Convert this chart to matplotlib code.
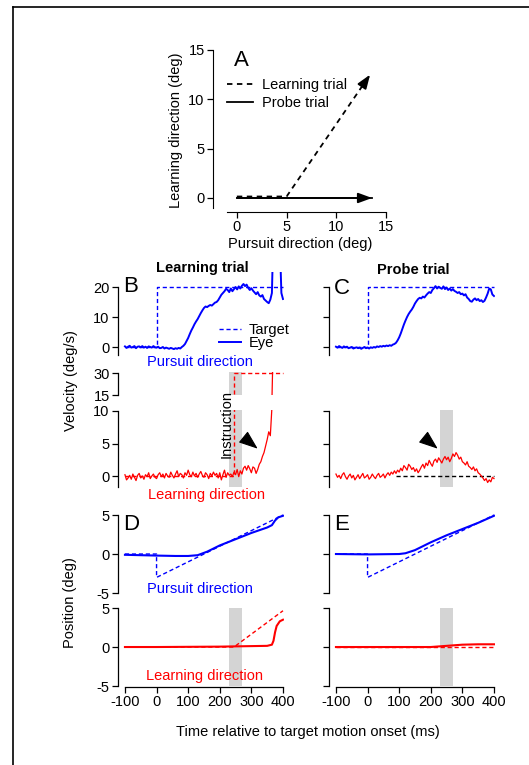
import numpy as np
import matplotlib.pyplot as plt
from matplotlib.lines import Line2D

plt.rcParams['font.family'] = ['Liberation Sans', 'DejaVu Sans']
plt.rcParams['font.size'] = 10.5
plt.rcParams['axes.unicode_minus'] = False

W, H = 529, 765
BLUE = '#0000ff'
RED = '#ff0000'
GRAY = '#d4d4d4'
FS = 10.5

# ---- panel A: target directions (deg) ----
probe_x = [0, 13.6]
probe_y = [0, 0]
learn_x = [0, 5, 13.4]
learn_y = [0.15, 0.15, 12.5]

# ---- eye velocity traces, sampled every 5 ms ----
t_vel = np.arange(-100, 401, 5)

eye_vel_pursuit_learn = [
    0.2, -0.3, 0.1, 0.4, -0.2, 0.0, 0.3, -0.4, 0.1, 0.2, -0.1, 0.3, -0.2, 0.1, -0.3, 0.2, 0.0, -0.2, 0.3, -0.1,
    -0.2, 0.1, -0.4, -0.3, 0.0, -0.5, -0.2, -0.4, -0.6, -0.3, -0.5, -0.7, -0.4,
    -0.6, -0.3, -0.5, 0.0, 0.4,
    1.0, 2.0, 3.0, 4.3, 5.5, 6.5, 7.6, 8.5, 9.3,
    10.3, 11.3, 12.2, 13.0, 13.5, 13.3, 13.7, 14.0, 13.8, 14.3,
    14.8, 15.0, 15.6, 16.5, 17.4, 18.0, 18.6, 19.4, 19.0, 18.3, 19.5, 18.6,
    19.3, 20.0, 19.2, 20.2, 19.5, 20.4, 21.0, 20.3, 20.8, 19.7, 19.0, 19.6,
    18.8, 18.2, 17.6, 18.3, 17.2, 16.8, 17.3, 16.0, 15.5, 15.0, 14.6, 15.8,
    18.0, 40.0, 45.0, 45.0, 40.0, 35.0, 18.0, 16.0]

eye_vel_pursuit_probe = [
    0.1, -0.2, 0.3, 0.0, -0.3, 0.2, -0.1, 0.1, -0.4, -0.2, 0.0, -0.5, -0.3, -0.1, -0.4, -0.2, -0.6, -0.3, 0.0, -0.4,
    -0.2, -0.5, -0.1, -0.3, 0.0, -0.2, 0.2, 0.0, 0.3, 0.1, 0.4, 0.2, 0.5,
    0.3, 0.6, 0.4, 0.8, 1.0,
    1.4, 2.2, 3.2, 4.5, 6.0, 7.5, 8.8, 10.0, 11.0,
    11.8, 12.5, 13.4, 14.5, 15.3, 16.0, 16.4, 16.2, 16.8, 16.5,
    17.2, 17.8, 18.3, 18.0, 19.0, 19.6, 20.3, 19.5, 20.1, 19.7, 19.4, 20.2,
    19.3, 19.8, 19.0, 19.5, 18.8, 19.3, 18.7, 18.4, 18.0, 18.3, 17.6, 17.8,
    17.2, 17.6, 16.5, 16.0, 15.3, 15.1, 15.8, 16.2, 15.6, 16.0, 15.3, 15.6,
    15.0, 15.4, 16.5, 17.8, 19.5, 19.2, 17.5, 17.0]

eye_vel_learn_learn = [
    0.2, -0.6, -0.3, 0.1, -0.5, 0.3, -0.2, -0.7, 0.1, 0.4, -0.3, 0.0, -0.5, 0.2, -0.1, 0.5, -0.4, 0.0, 0.3, -0.2,
    -0.4, 0.2, 0.5, -0.1, 0.3, -0.3, 0.4, 0.0, -0.2, 0.6, 0.1, -0.3, 0.3,
    0.8, -0.1, 0.4, 0.2, -0.3,
    0.5, 0.1, 0.9, 0.2, -0.1, 0.6, 0.0, 0.4, -0.2,
    0.3, 0.7, 0.1, -0.2, 0.5, 0.2, -0.4, 0.4, 0.0, 0.6,
    0.1, 0.4, -0.3, 0.5, -0.6, 0.2, 0.9, -0.2, 0.5, 0.1, 0.3, -0.1,
    0.6, 0.2, 1.0, -0.1, 0.8, 0.3, 1.2, 1.5, 0.9, 1.6, 1.1, 0.5,
    1.4, 1.2, 0.4, 1.0, 1.8, 2.2, 3.0, 3.6, 4.6, 5.6, 6.8, 6.2,
    10.5, 60, 60, 60, 60, 60, 60, 60]

eye_vel_learn_probe = [
    0.3, -0.2, 0.1, -0.4, 0.2, 0.5, -0.1, -0.5, 0.0, 0.3, -0.3, 0.1, -0.6, -0.2, 0.2, -0.4, 0.0, 0.4, -0.3, -0.1,
    0.2, -0.5, -0.2, 0.3, -0.1, -0.4, 0.1, 0.4, -0.2, 0.0, 0.3, -0.3, 0.2,
    0.5, 0.1, 0.6, 0.3, 0.8,
    0.4, 0.9, 0.6, 1.2, 0.8, 1.6, 1.3, 0.9, 1.8,
    1.5, 1.0, 1.3, 0.7, 1.1, 0.5, 0.9, 1.4, 1.8, 1.2,
    2.0, 1.6, 2.4, 1.9, 1.5, 2.3, 2.6, 2.1, 2.8, 2.4, 2.0, 2.6,
    3.0, 2.5, 2.9, 2.2, 2.7, 3.4, 3.0, 3.6, 3.2, 2.6, 2.9, 2.2,
    2.0, 1.7, 2.2, 1.5, 1.3, 1.0, 1.4, 0.8, 1.1, 0.5, 0.3, 0.0,
    -0.3, -0.7, -0.4, -1.0, -0.6, -0.9, -0.2, -0.4]

# target velocity (deg/s)
tgt_vel_t = [-100, 0, 0, 400]
tgt_vel_pursuit = [0, 0, 20, 20]
tgt_learn_t = [-100, 245, 245, 400]
tgt_learn_vel = [0, 0, 30, 30]
probe_zero_t = [90, 400]
probe_zero_v = [0, 0]

# target position (deg)
tgt_pos_t = [-100, 0, 0, 400]
tgt_pos_pursuit = [0, 0, -3, 5]
tgt_pos_learn_t = [-100, 245, 400]
tgt_pos_learn = [0, 0, 4.65]
tgt_pos_probe_t = [-100, 400]
tgt_pos_probe = [0, 0]

# eye position (deg)
eye_pos_pl_t = [-100, 0, 60, 100, 130, 160, 200, 250, 300, 350, 365, 375, 385, 400]
eye_pos_pl = [-0.1, -0.2, -0.25, -0.25, -0.15, 0.3, 1.1, 1.9, 2.7, 3.4, 3.7, 4.3, 4.7, 4.9]
eye_pos_pp_t = [-100, 0, 100, 120, 150, 200, 250, 300, 350, 400]
eye_pos_pp = [0, -0.05, 0, 0.1, 0.5, 1.5, 2.4, 3.2, 4.0, 4.9]
eye_pos_ll_t = [-100, 0, 200, 350, 365, 370, 375, 380, 390, 400]
eye_pos_ll = [0, 0, 0.05, 0.15, 0.3, 0.8, 1.9, 2.7, 3.3, 3.5]
eye_pos_lp_t = [-100, 200, 250, 300, 350, 400]
eye_pos_lp = [0, 0, 0.15, 0.3, 0.35, 0.35]

instr = (230, 270)
time_ticks = [-100, 0, 100, 200, 300, 400]

fig = plt.figure(figsize=(W / 100, H / 100), dpi=100)


def add_ax(x0, y0, x1, y1):
    return fig.add_axes([x0 / W, 1 - y1 / H, (x1 - x0) / W, (y1 - y0) / H])


def style(ax, ybounds, yticks, labels=True, xaxis=False):
    ax.patch.set_visible(False)
    for s in ['top', 'right']:
        ax.spines[s].set_visible(False)
    ax.spines['left'].set_bounds(*ybounds)
    ax.set_yticks(yticks)
    if not labels:
        ax.set_yticklabels([])
    if xaxis:
        ax.spines['bottom'].set_bounds(-100, 400)
        ax.set_xticks(time_ticks)
    else:
        ax.spines['bottom'].set_visible(False)
        ax.set_xticks([])
    for s in ['left', 'bottom']:
        ax.spines[s].set_linewidth(0.9)
    ax.tick_params(direction='out', length=4, width=0.9, pad=2, labelsize=FS)
    ax.set_xlim(-122, 402)


def ftext(x, y, s, **kw):
    fig.text(x / W, 1 - y / H, s, ha='center', va='center', **kw)


# frame
fig.add_artist(Line2D([12.5 / W, 12.5 / W], [0, 1 - 7 / H], color='k', lw=1.2))
fig.add_artist(Line2D([12.5 / W, 1], [1 - 7 / H, 1 - 7 / H], color='k', lw=1.2))

# ---- A ----
axA = add_ax(213, 49, 387, 212)
axA.set_xlim(-2.4, 15.1)
axA.set_ylim(-1.42, 15.1)
for s in ['top', 'right']:
    axA.spines[s].set_visible(False)
axA.spines['left'].set_bounds(-1, 15)
axA.spines['bottom'].set_bounds(-1, 15)
axA.set_xticks([0, 5, 10, 15])
axA.set_yticks([0, 5, 10, 15])
axA.tick_params(direction='out', length=4, width=0.9, pad=2, labelsize=FS)
axA.plot(learn_x, learn_y, color='k', ls=(0, (3, 2.5)), lw=1.3, label='Learning trial')
axA.plot(probe_x, probe_y, color='k', lw=1.3, label='Probe trial')
axA.annotate('', xy=(probe_x[-1], probe_y[-1]), xytext=(probe_x[-2], probe_y[-2]),
             arrowprops=dict(arrowstyle='-|>,head_length=0.6,head_width=0.22', color='k',
                             lw=1.3, mutation_scale=14, shrinkA=0, shrinkB=0))
dx, dy = learn_x[-1] - learn_x[-2], learn_y[-1] - learn_y[-2]
axA.annotate('', xy=(learn_x[-1], learn_y[-1]),
             xytext=(learn_x[-1] - 0.1 * dx, learn_y[-1] - 0.1 * dy),
             arrowprops=dict(arrowstyle='-|>,head_length=0.6,head_width=0.22', color='k',
                             lw=1.3, mutation_scale=14, shrinkA=0, shrinkB=0))
axA.set_xlabel('Pursuit direction (deg)', fontsize=FS, labelpad=2)
axA.set_ylabel('Learning direction (deg)', fontsize=FS, labelpad=4)
axA.legend(loc='upper left', bbox_to_anchor=(227 / W, 1 - 78 / H), bbox_transform=fig.transFigure,
           frameon=False, fontsize=FS, handlelength=1.8, handletextpad=0.6,
           labelspacing=0.3, borderpad=0, borderaxespad=0)
ftext(241, 61, 'A', fontsize=16)

# ---- velocity panels ----
for col, (x0, x1) in enumerate([(118, 283.6), (329, 494.6)]):
    lab = col == 0
    axv = add_ax(x0, 272, x1, 355.1)
    style(axv, (-2.7, 20), [0, 10, 20], labels=lab)
    axv.set_ylim(-2.7, 25)
    eye = eye_vel_pursuit_learn if lab else eye_vel_pursuit_probe
    axv.plot(tgt_vel_t, tgt_vel_pursuit, color=BLUE, ls=(0, (3, 2)), lw=1.0, label='Target')
    axv.plot(t_vel, eye, color=BLUE, lw=1.4, label='Eye')
    if lab:
        axv.legend(loc='upper left', bbox_to_anchor=(219 / W, 1 - 323 / H), bbox_transform=fig.transFigure,
                   frameon=False, fontsize=FS, handlelength=1.5, handletextpad=0.55,
                   labelspacing=-0.05, borderpad=0, borderaxespad=0)

    axr = add_ax(x0, 409.7, x1, 487.05)
    style(axr, (-1.7, 10), [0, 5, 10], labels=lab)
    axr.set_ylim(-1.7, 10.2)
    axr.axvspan(*instr, color=GRAY, lw=0, zorder=0)
    eye = eye_vel_learn_learn if lab else eye_vel_learn_probe
    if lab:
        axr.plot(tgt_learn_t, tgt_learn_vel, color=RED, ls=(0, (3, 2)), lw=1.0)
        tail, tip = (277, 5.9), (320, 4.2)
    else:
        axr.plot(probe_zero_t, probe_zero_v, color='k', ls=(0, (3, 2)), lw=1.0)
        tail, tip = (179, 5.9), (222, 4.2)
    axr.plot(t_vel, eye, color=RED, lw=0.9)
    axr.annotate('', xy=tip, xytext=tail,
                 arrowprops=dict(arrowstyle='-|>,head_length=0.85,head_width=0.32', color='k',
                                 lw=0.8, mutation_scale=14, shrinkA=0, shrinkB=0))

    if lab:
        axu = add_ax(x0, 372, x1, 395)
        style(axu, (15, 30), [15, 30])
        axu.set_ylim(15, 30.7)
        axu.axvspan(*instr, color=GRAY, lw=0, zorder=0)
        axu.plot(tgt_learn_t, tgt_learn_vel, color=RED, ls=(0, (3, 2)), lw=1.0)
        axu.plot(t_vel, eye, color=RED, lw=0.9)

    # ---- position panels ----
    axp = add_ax(x0, 511.9, x1, 593.8)
    style(axp, (-5, 5), [-5, 0, 5], labels=lab)
    axp.set_ylim(-5.1, 5.4)
    axp.plot(tgt_pos_t, tgt_pos_pursuit, color=BLUE, ls=(0, (3, 2)), lw=1.0)
    if lab:
        axp.plot(eye_pos_pl_t, eye_pos_pl, color=BLUE, lw=1.5)
    else:
        axp.plot(eye_pos_pp_t, eye_pos_pp, color=BLUE, lw=1.5)

    axq = add_ax(x0, 604.9, x1, 686.8)
    style(axq, (-5, 5), [-5, 0, 5], labels=lab, xaxis=True)
    axq.set_ylim(-5.1, 5.4)
    axq.axvspan(*instr, ymin=0.01, ymax=0.962, color=GRAY, lw=0, zorder=0)
    if lab:
        axq.plot(tgt_pos_learn_t, tgt_pos_learn, color=RED, ls=(0, (3, 2)), lw=1.0)
        axq.plot(eye_pos_ll_t, eye_pos_ll, color=RED, lw=1.5)
    else:
        axq.plot(tgt_pos_probe_t, tgt_pos_probe, color=RED, ls=(0, (3, 2)), lw=1.0)
        axq.plot(eye_pos_lp_t, eye_pos_lp, color=RED, lw=1.5)

# ---- texts ----
ftext(131, 286, 'B', fontsize=16)
ftext(342, 289, 'C', fontsize=16)
ftext(131, 524, 'D', fontsize=16)
ftext(342, 525, 'E', fontsize=16)
ftext(202, 268, 'Learning trial', fontsize=FS, fontweight='bold')
ftext(413, 270, 'Probe trial', fontsize=FS, fontweight='bold')
ftext(200, 362, 'Pursuit direction', fontsize=FS, color=BLUE)
ftext(206, 495, 'Learning direction', fontsize=FS, color=RED)
ftext(227, 424, 'Instruction', fontsize=FS, rotation=90)
ftext(200, 589, 'Pursuit direction', fontsize=FS, color=BLUE)
ftext(205, 676, 'Learning direction', fontsize=FS, color=RED)
ftext(71, 381, 'Velocity (deg/s)', fontsize=FS, rotation=90)
ftext(70, 603, 'Position (deg)', fontsize=FS, rotation=90)
ftext(308, 732, 'Time relative to target motion onset (ms)', fontsize=FS)

fig.savefig('out.png', dpi=100)
